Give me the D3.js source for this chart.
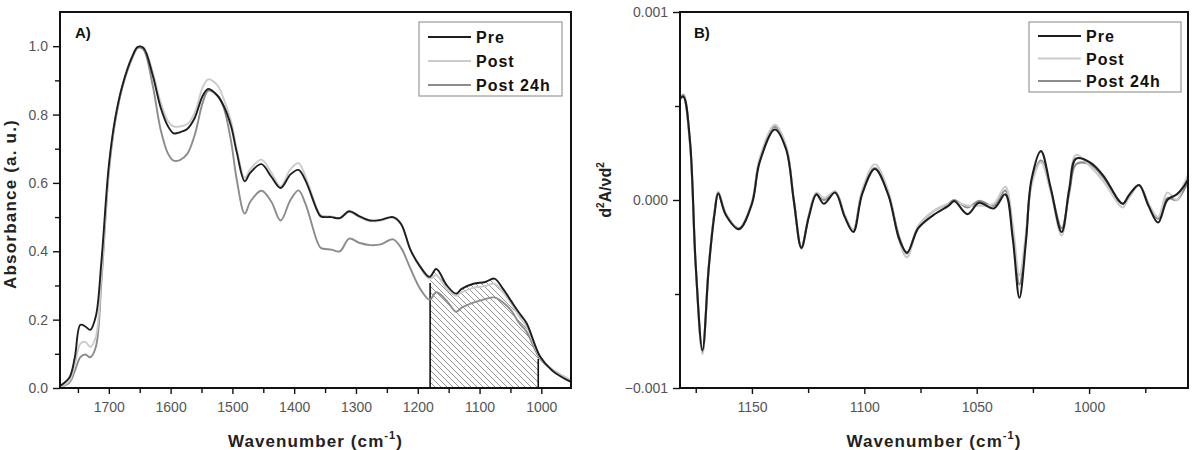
<!DOCTYPE html>
<html><head><meta charset="utf-8">
<script src="https://cdn.jsdelivr.net/npm/d3@7"></script>
<style>body{margin:0;background:#fff}svg{display:block}</style>
</head><body>
<svg id="c" width="1193" height="450"></svg>
<script>
// ---------- DATA ----------
const seriesNames = ["Pre", "Post", "Post 24h"];
const seriesColors = ["#1e1e1e", "#cbcbcb", "#8c8c8c"];

// Panel A: absorbance spectra
const wnA = [1780,1764,1755,1746,1738,1730,1721,1712,1700,1690,1678,1662,1653,1644,1629,1616,1604,1595,1585,1573,1561,1548,1539,1524,1514,1502,1493,1480,1471,1453,1437,1422,1406,1393,1382,1363,1357,1340,1326,1311,1295,1277,1260,1240,1227,1212,1196,1181,1170,1153,1138,1129,1110,1091,1076,1062,1048,1036,1024,1002,983,965,952];
const preA = [0.005,0.03,0.09,0.185,0.18,0.17,0.21,0.37,0.65,0.785,0.885,0.97,0.998,0.995,0.915,0.82,0.765,0.745,0.748,0.758,0.79,0.855,0.875,0.855,0.825,0.765,0.69,0.605,0.63,0.655,0.618,0.585,0.625,0.638,0.608,0.52,0.502,0.5,0.497,0.517,0.503,0.49,0.492,0.5,0.48,0.405,0.355,0.325,0.348,0.3,0.276,0.29,0.305,0.31,0.32,0.29,0.252,0.22,0.19,0.092,0.052,0.03,0.018];
const postA = [0.002,0.02,0.07,0.13,0.135,0.12,0.15,0.33,0.64,0.785,0.885,0.97,0.998,0.997,0.925,0.835,0.78,0.765,0.765,0.772,0.805,0.88,0.903,0.885,0.845,0.78,0.7,0.615,0.64,0.668,0.63,0.59,0.64,0.658,0.62,0.525,0.505,0.502,0.497,0.515,0.5,0.488,0.49,0.498,0.478,0.405,0.352,0.32,0.33,0.29,0.27,0.28,0.293,0.298,0.305,0.28,0.245,0.21,0.18,0.09,0.055,0.035,0.022];
const post24A = [0.002,0.015,0.05,0.09,0.098,0.09,0.12,0.31,0.63,0.775,0.88,0.965,0.995,0.99,0.885,0.755,0.685,0.665,0.667,0.685,0.74,0.835,0.87,0.855,0.82,0.72,0.61,0.51,0.545,0.577,0.545,0.49,0.55,0.578,0.54,0.43,0.41,0.405,0.4,0.437,0.425,0.418,0.42,0.435,0.41,0.35,0.29,0.258,0.28,0.255,0.223,0.235,0.25,0.26,0.265,0.25,0.225,0.19,0.165,0.085,0.055,0.035,0.022];
const hatchRange = [1180, 1005];
const xTicksA = [1700,1600,1500,1400,1300,1200,1100,1000];
const xMinorA = [1750,1650,1550,1450,1350,1250,1150,1050];
const yTicksA = [0,0.2,0.4,0.6,0.8,1.0];
const yMinorA = [0.1,0.3,0.5,0.7,0.9];

// Panel B: second derivative spectra
const wnB = [1182,1180.5,1177.6,1175,1172,1169.2,1166.6,1165,1161.6,1155.8,1150,1146.6,1139.8,1134.8,1131.4,1128,1124.7,1121.3,1118,1113,1108.7,1104.9,1101,1095.3,1089.4,1084.4,1081,1076,1069.3,1062.5,1060,1054.1,1049,1042.4,1037.3,1034,1031,1028.1,1025.6,1021.4,1017.2,1012.2,1008.8,1005.8,999.6,993.7,987,985,982,977.8,973.6,969.3,965.2,961,958,955];
const preB = [0.00054,0.00055,0.00032,-0.00035,-0.0008,-0.00036,-0.00007,0.000035,-0.00008,-0.000155,-0.00002,0.0002,0.000375,0.00027,0,-0.000255,-0.00009,0.00003,-0.00002,0.00004,-0.00009,-0.00017,0.00003,0.000165,0.00003,-0.00021,-0.00028,-0.00015,-0.00008,-0.00003,-0.000005,-0.000075,-0.000015,-0.000045,0.00003,-0.0002,-0.00052,-0.00022,0.00011,0.00026,0.00007,-0.00017,0.00006,0.00022,0.0002,0.00013,0,-0.00002,0.00003,0.00008,-0.00003,-0.00012,0,0.00003,0.00007,0.00013];
const postB = [0.00053,0.00055,0.0003,-0.00036,-0.00082,-0.00036,-0.00006,0.000045,-0.00007,-0.000155,-0.00001,0.00022,0.0004,0.00029,0,-0.00026,-0.00008,0.00004,0.00001,0.000045,-0.00008,-0.00016,0.00005,0.00019,0.00005,-0.00022,-0.000305,-0.00014,-0.00006,-0.00002,-0.00001,-0.00003,-0.00003,-0.00002,0.00007,-0.00013,-0.0004,-0.00018,0.00008,0.0002,0.00005,-0.00019,0.00007,0.00024,0.00018,0.0001,-0.00002,-0.00004,0.00002,0.00008,-0.00002,-0.00009,0.00004,0,0.00008,0.00016];
const post24B = [0.00054,0.00056,0.00031,-0.00035,-0.00081,-0.00035,-0.00006,0.00004,-0.000075,-0.00015,-0.000015,0.00021,0.00039,0.00028,0,-0.00025,-0.000085,0.000035,0,0.000045,-0.000085,-0.00016,0.00004,0.00017,0.000035,-0.0002,-0.000285,-0.00014,-0.00006,-0.00002,0,-0.00004,-0.000005,-0.00003,0.00005,-0.00017,-0.00045,-0.0002,0.00009,0.00021,0.00006,-0.00015,0.00004,0.00019,0.00019,0.00012,0,-0.00002,0.00002,0.00008,-0.00002,-0.0001,0.00001,0,0.00005,0.00012];
const xTicksB = [1150,1100,1050,1000];
const xMinorB = [1175,1125,1075,1025,975];
const yTicksB = [-0.001,0,0.001];
const yMinorB = [-0.0005,0.0005];

// ---------- DRAW ----------
const svg = d3.select("#c");
const FONT = "'Liberation Sans', Arial, sans-serif";
const defs = svg.append("defs");
const pat = defs.append("pattern").attr("id","hatch").attr("patternUnits","userSpaceOnUse")
  .attr("width",6).attr("height",6);
pat.append("path").attr("d","M-1,-1 L7,7 M-1,5 L1,7 M5,-1 L7,1").attr("stroke","#8a8a8a").attr("stroke-width",0.9);

function panel(cfg){
  const {L,R,T,B} = cfg;
  const g = svg.append("g");
  const x = d3.scaleLinear().domain(cfg.xDom).range([L,R]);
  const y = d3.scaleLinear().domain(cfg.yDom).range([B,T]);
  const clipId = "clip"+cfg.id;
  defs.append("clipPath").attr("id",clipId).append("rect").attr("x",L).attr("y",T).attr("width",R-L).attr("height",B-T);

  const plot = g.append("g").attr("clip-path",`url(#${clipId})`);
  if (cfg.hatch) cfg.hatch(plot,x,y);
  const line = d3.line().x(d=>x(d[0])).y(d=>y(d[1])).curve(d3.curveCatmullRom.alpha(0.5));
  const order = [2,1,0];
  order.forEach(i=>{
    plot.append("path").datum(cfg.wn.map((w,k)=>[w,cfg.series[i][k]]))
      .attr("d",line).attr("fill","none").attr("stroke",seriesColors[i])
      .attr("stroke-width",cfg.lw).attr("stroke-linejoin","round");
  });

  // axes
  const styleAxis = (sel)=>{
    sel.select(".domain").remove();
    sel.selectAll(".tick line").attr("stroke","#111").attr("stroke-width",1.4);
    sel.selectAll(".tick text").attr("font-family",FONT).attr("font-size",14).attr("fill","#555");
  };
  g.append("g").attr("transform",`translate(0,${B})`)
    .call(d3.axisBottom(x).tickValues(cfg.xTicks).tickSize(6).tickPadding(8).tickFormat(d3.format("d"))).call(styleAxis);
  g.append("g").attr("transform",`translate(0,${B})`)
    .call(d3.axisBottom(x).tickValues(cfg.xMinor).tickSize(5).tickFormat("")).call(styleAxis);
  g.append("g").attr("transform",`translate(${L},0)`)
    .call(d3.axisLeft(y).tickValues(cfg.yTicks).tickSize(7).tickPadding(5).tickFormat(d3.format(cfg.yFmt))).call(styleAxis);
  g.append("g").attr("transform",`translate(${L},0)`)
    .call(d3.axisLeft(y).tickValues(cfg.yMinor).tickSize(5).tickFormat("")).call(styleAxis);

  g.append("rect").attr("x",L).attr("y",T).attr("width",R-L).attr("height",B-T)
    .attr("fill","none").attr("stroke","#111").attr("stroke-width",2);

  // panel label
  g.append("text").attr("x",L+cfg.labDx).attr("y",T+26).text(cfg.label)
    .attr("font-family",FONT).attr("font-weight","bold").attr("font-size",15).attr("fill","#111");

  // x title
  const xt = g.append("text").attr("x",(L+R)/2).attr("y",447).attr("text-anchor","middle")
    .attr("font-family",FONT).attr("font-weight","bold").attr("font-size",17).attr("fill","#222")
    .attr("letter-spacing","1.1px");
  xt.append("tspan").text("Wavenumber (cm");
  xt.append("tspan").text("-1").attr("font-size",11).attr("dy",-8);
  xt.append("tspan").text(")").attr("dy",8);

  // y title
  const yt = g.append("text").attr("transform",`translate(${cfg.ytX},${cfg.ytY}) rotate(-90)`)
    .attr("text-anchor","middle").attr("font-family",FONT).attr("font-weight","bold")
    .attr("font-size",cfg.ytSize).attr("letter-spacing",cfg.ytSpace).attr("fill","#222");
  cfg.ytitle(yt);

  // legend
  const lg = g.append("g");
  lg.append("rect").attr("x",cfg.leg.x).attr("y",cfg.leg.y).attr("width",cfg.leg.w).attr("height",cfg.leg.h)
    .attr("fill","#fff").attr("stroke","#9a9a9a").attr("stroke-width",1.2);
  seriesNames.forEach((n,i)=>{
    const yy = cfg.leg.y + cfg.leg.r0 + i*cfg.leg.dr;
    lg.append("line").attr("x1",cfg.leg.x+9).attr("x2",cfg.leg.x+52).attr("y1",yy).attr("y2",yy)
      .attr("stroke",seriesColors[i]).attr("stroke-width",2.2);
    lg.append("text").attr("x",cfg.leg.x+57).attr("y",yy+6).text(n)
      .attr("font-family",FONT).attr("font-weight","bold").attr("font-size",16)
      .attr("letter-spacing","1px").attr("fill","#111");
  });
  return {x,y};
}

panel({
  id:"A", L:60, R:571, T:12, B:388, lw:1.9,
  xDom:[1779,952], yDom:[0,1.1],
  wn:wnA, series:[preA,postA,post24A],
  xTicks:xTicksA, xMinor:xMinorA, yTicks:yTicksA, yMinor:yMinorA, yFmt:".1f",
  label:"A)", labDx:15,
  ytX:16, ytY:204, ytSize:17, ytSpace:"1.2px",
  ytitle:(t)=>{ t.text("Absorbance (a. u.)"); },
  leg:{x:419,y:22,w:143,h:74,r0:15,dr:24},
  hatch:(plot,x,y)=>{
    const interp = (w)=>{
      for (let k=0;k<wnA.length-1;k++){
        if (wnA[k]>=w && wnA[k+1]<=w){
          const t=(wnA[k]-w)/(wnA[k]-wnA[k+1]);
          return preA[k]+(preA[k+1]-preA[k])*t;
        }
      }
      return 0;
    };
    const pts = [[hatchRange[0], interp(hatchRange[0])]]
      .concat(wnA.map((w,k)=>[w,preA[k]]).filter(d=>d[0]<hatchRange[0]&&d[0]>hatchRange[1]))
      .concat([[hatchRange[1], interp(hatchRange[1])]]);
    const area = d3.area().x(d=>x(d[0])).y0(y(0)).y1(d=>y(d[1])).curve(d3.curveCatmullRom.alpha(0.5));
    plot.append("path").datum(pts).attr("d",area).attr("fill","url(#hatch)");
    [hatchRange[0],hatchRange[1]].forEach(w=>{
      plot.append("line").attr("x1",x(w)).attr("x2",x(w)).attr("y1",y(0)).attr("y2",y(interp(w)-0.02))
        .attr("stroke","#111").attr("stroke-width",1.6);
    });
  }
});

panel({
  id:"B", L:680, R:1188, T:12, B:388, lw:2.1,
  xDom:[1182,956], yDom:[-0.001,0.001],
  wn:wnB, series:[preB,postB,post24B],
  xTicks:xTicksB, xMinor:xMinorB, yTicks:yTicksB, yMinor:yMinorB, yFmt:".3f",
  label:"B)", labDx:14,
  ytX:611, ytY:190, ytSize:16, ytSpace:"0px",
  ytitle:(t)=>{
    t.append("tspan").text("d");
    t.append("tspan").text("2").attr("font-size",10).attr("dy",-7);
    t.append("tspan").text("A/\u03BDd").attr("dy",7);
    t.append("tspan").text("2").attr("font-size",10).attr("dy",-7);
  },
  leg:{x:1029,y:22,w:152,h:70,r0:14,dr:22.5}
});
</script>
</body></html>
